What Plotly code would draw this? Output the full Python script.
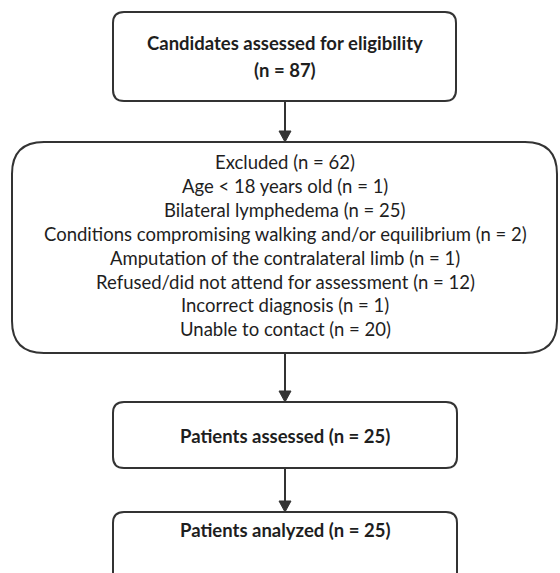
import plotly.graph_objects as go

# ---- content ----
title_lines = ["Candidates assessed for eligibility", "(n = 87)"]
assessed_label = "Patients assessed"
assessed_n = 25
analyzed_label = "Patients analyzed"
analyzed_n = 25
excluded_labels = [
    "Excluded",
    "Age < 18 years old",
    "Bilateral lymphedema",
    "Conditions compromising walking and/or equilibrium",
    "Amputation of the contralateral limb",
    "Refused/did not attend for assessment",
    "Incorrect diagnosis",
    "Unable to contact",
]
excluded_counts = [62, 1, 25, 2, 1, 12, 1, 20]

W, H = 560, 573
LINE = "#333333"
TXT = "#1e1e1e"
FONT = "Lato"
FS = 18.5

# box geometry (pixels): x0, y0, x1, y1, corner radius
boxes = [
    (113, 12, 456, 101, 11),
    (12, 142, 557, 353, 32),
    (113, 402, 457, 468, 11),
    (113, 512, 457, 600, 11),
]


def rrect(x0, y0, x1, y1, r):
    return (f"M {x0+r},{y0} L {x1-r},{y0} Q {x1},{y0} {x1},{y0+r} "
            f"L {x1},{y1-r} Q {x1},{y1} {x1-r},{y1} L {x0+r},{y1} "
            f"Q {x0},{y1} {x0},{y1-r} L {x0},{y0+r} Q {x0},{y0} {x0+r},{y0} Z")


fig = go.Figure()
fig.add_trace(go.Scatter(x=[], y=[], showlegend=False))

shapes = []
for (x0, y0, x1, y1, r) in boxes:
    shapes.append(dict(type="path", path=rrect(x0, y0, x1, y1, r),
                       line=dict(color=LINE, width=2), fillcolor="white",
                       xref="x", yref="y", layer="below"))

# arrows between consecutive boxes
cx = 285
for i in range(len(boxes) - 1):
    ytop = boxes[i][3]
    ybot = boxes[i + 1][1]
    shapes.append(dict(type="line", x0=cx, x1=cx, y0=ytop, y1=ybot - 9,
                       line=dict(color=LINE, width=2), xref="x", yref="y"))
    shapes.append(dict(type="path",
                       path=f"M {cx-6},{ybot-11} L {cx+6},{ybot-11} L {cx},{ybot} Z",
                       fillcolor=LINE, line=dict(color=LINE, width=1),
                       xref="x", yref="y"))


def txt(y, s, bold=False):
    return dict(x=285, y=y, text=(f"<b>{s}</b>" if bold else s), showarrow=False,
                font=dict(family=FONT, size=FS, color=TXT),
                xref="x", yref="y", yanchor="middle", xanchor="center")


annotations = [txt(43, title_lines[0], True), txt(70, title_lines[1], True)]
for i, (lab, n) in enumerate(zip(excluded_labels, excluded_counts)):
    annotations.append(txt(162 + i * 23.9, f"{lab} (n = {n})"))
annotations.append(txt(436, f"{assessed_label} (n = {assessed_n})", True))
annotations.append(txt(530, f"{analyzed_label} (n = {analyzed_n})", True))

fig.update_layout(
    width=W, height=H, autosize=False,
    margin=dict(l=0, r=0, t=0, b=0),
    paper_bgcolor="white", plot_bgcolor="white",
    xaxis=dict(range=[0, W], visible=False, fixedrange=True),
    yaxis=dict(range=[H, 0], visible=False, fixedrange=True),
    shapes=shapes, annotations=annotations,
    showlegend=False,
)

fig.write_html("out.html", config={"displayModeBar": False},
               post_script="document.body.style.margin='0';")
